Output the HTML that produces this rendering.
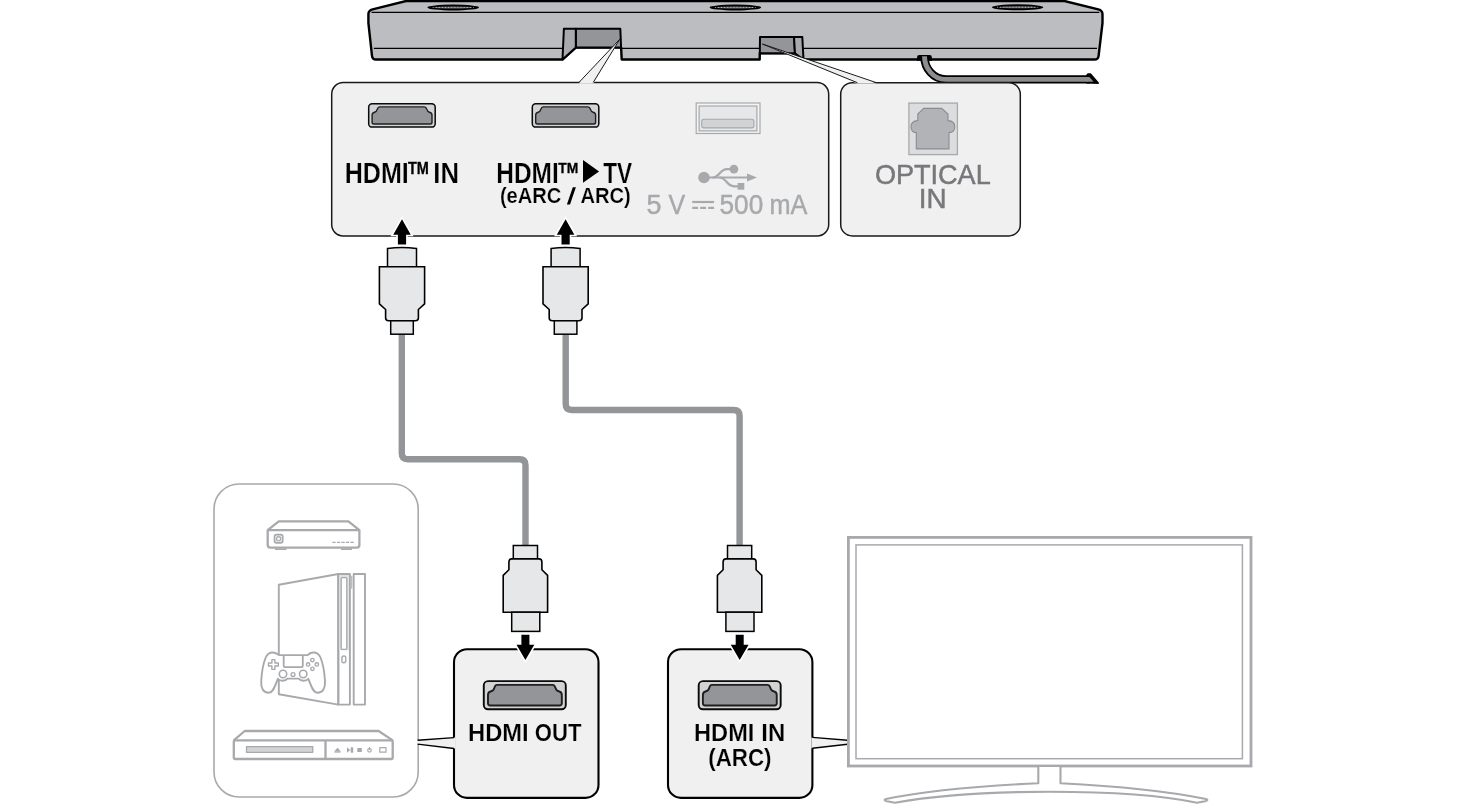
<!DOCTYPE html>
<html><head><meta charset="utf-8"><title>HDMI connection diagram</title>
<style>
html,body{margin:0;padding:0;background:#fff;}
body{width:1465px;height:805px;overflow:hidden;font-family:"Liberation Sans",sans-serif;}
svg{display:block;}
</style></head>
<body>
<svg width="1465" height="805" viewBox="0 0 1465 805" style="will-change:transform">
<defs><filter id="gs" filterUnits="userSpaceOnUse" x="0" y="0" width="1465" height="805"><feOffset dx="0" dy="0"/></filter></defs>
<rect width="1465" height="805" fill="#fff"/>
<g id="soundbar">
<path d="M406,1 L1064.5,1 L1098.3,9.3 Q1102.5,10.3 1102.5,14.2 L1102.5,23 L1098.6,55.8 Q1098.2,59.5 1094.5,59.5 L803.5,59.5 L795,53.3 L759.8,53.3 L759.7,59.5 L621.7,59.5 L621.1,47.5 L575.8,47.5 L562.5,59.5 L376,59.5 Q372.4,59.5 372,55.8 L368.4,23 L368.4,14.2 Q368.4,10.3 372.6,9.3 Z" fill="#bcbdc0" stroke="#000" stroke-width="2.4" stroke-linejoin="round"/>
<path d="M917,60.7 L917,57.4 Q917,55.1 919.3,55.1 L929.6,55.1 Q931.9,55.1 931.9,57.4 L931.9,60.7 Z" fill="#000"/>
<path d="M924.5,57 C924.5,68 933,79.4 946,79.4 L1090,79.4" fill="none" stroke="#000" stroke-width="8.4"/>
<path d="M1086,75.2 L1087.6,73.2 L1090.8,73.2 L1098.8,82.6 L1098.8,84 L1086,83.6 Z" fill="#000"/>
<path d="M924.5,56.3 C924.5,68 933,79.4 946,79.4 L1088,79.4" fill="none" stroke="#8b8d90" stroke-width="4.9"/>
<path d="M1087,76.95 L1089.4,76.95 L1093.6,81.85 L1087,81.85 Z" fill="#8b8d90"/>
<rect x="405" y="-1" width="660.5" height="2.9" fill="#000"/>
<path d="M371.5,12.4 L1099.3,12.4" stroke="#000" stroke-width="1.2" fill="none"/>
<path d="M373.8,48.3 L562.8,48.3 M621.4,48.3 L759.7,48.3 M803,48.3 L1097,48.3" stroke="#000" stroke-width="1.2" fill="none"/>
<polygon points="575.8,28.7 620.3,28.7 621.1,47.5 575.8,47.5" fill="#939598" stroke="#000" stroke-width="2" stroke-linejoin="round"/>
<polygon points="563.9,28.7 575.8,28.7 575.8,47.5 562.5,59.5" fill="#a7a9ac" stroke="#000" stroke-width="2" stroke-linejoin="round"/>
<polygon points="760,37 794,37 795,53.3 759.8,53.3" fill="#939598" stroke="#000" stroke-width="2" stroke-linejoin="round"/>
<polygon points="794,37 802.3,37 803.5,59.5 795,53.3" fill="#a7a9ac" stroke="#000" stroke-width="2" stroke-linejoin="round"/>
<ellipse cx="453.2" cy="7.5" rx="25.8" ry="3.0" fill="#000"/>
<ellipse cx="453.2" cy="7.5" rx="19" ry="1.0" fill="#6d6e71"/>
<path d="M432.7,7.5 L473.7,7.5" stroke="#d1d3d4" stroke-width="0.8" stroke-dasharray="0.9 2.2"/>
<ellipse cx="735.4" cy="7.5" rx="25.8" ry="3.0" fill="#000"/>
<ellipse cx="735.4" cy="7.5" rx="19" ry="1.0" fill="#6d6e71"/>
<path d="M714.9,7.5 L755.9,7.5" stroke="#d1d3d4" stroke-width="0.8" stroke-dasharray="0.9 2.2"/>
<ellipse cx="1017.6" cy="7.3" rx="25.8" ry="3.0" fill="#000"/>
<ellipse cx="1017.6" cy="7.3" rx="19" ry="1.0" fill="#6d6e71"/>
<path d="M997.1,7.3 L1038.1,7.3" stroke="#d1d3d4" stroke-width="0.8" stroke-dasharray="0.9 2.2"/>
</g>
<rect x="331.7" y="82.5" width="497" height="153.5" rx="11.5" fill="#f0f0f0" stroke="#1a1a1a" stroke-width="1.5"/>
<rect x="840.7" y="82.7" width="179.6" height="153.2" rx="11.5" fill="#f0f0f0" stroke="#1a1a1a" stroke-width="1.5"/>
<polygon points="619.8,39.2 578.6,83.4 593.4,83.4" fill="#f0f0f0"/>
<path d="M578.9,82.5 L619.8,39.2 L593.2,82.5" fill="none" stroke="#1a1a1a" stroke-width="1" stroke-linejoin="round"/>
<polygon points="762.4,44 857.0,83.5 877,83.5" fill="#f0f0f0"/>
<path d="M857.4,82.7 L762.4,44 L876.5,82.7" fill="none" stroke="#1a1a1a" stroke-width="1" stroke-linejoin="round"/>
<rect x="368.70" y="103.80" width="66.50" height="23.30" rx="3.40" fill="#d1d3d4" stroke="#0a0a0a" stroke-width="1.5"/><path d="M379.50,106.90 L424.30,106.90 C426.10,106.90 426.50,108.20 426.80,109.20 C427.30,111.20 428.30,111.90 429.50,112.20 C431.10,112.60 432.00,113.60 432.00,115.20 L432.00,122.20 Q432.00,124.00 430.20,124.00 L373.90,124.00 Q372.10,124.00 372.10,122.20 L372.10,115.20 C372.10,113.60 373.00,112.60 374.60,112.20 C375.80,111.90 376.80,111.20 377.30,109.20 C377.60,108.20 378.00,106.90 379.50,106.90 Z" fill="#939598" stroke="#1f1f1f" stroke-width="1.4" stroke-linejoin="round"/>
<rect x="532.30" y="103.80" width="66.50" height="23.30" rx="3.40" fill="#d1d3d4" stroke="#0a0a0a" stroke-width="1.5"/><path d="M543.10,106.90 L587.90,106.90 C589.70,106.90 590.10,108.20 590.40,109.20 C590.90,111.20 591.90,111.90 593.10,112.20 C594.70,112.60 595.60,113.60 595.60,115.20 L595.60,122.20 Q595.60,124.00 593.80,124.00 L537.50,124.00 Q535.70,124.00 535.70,122.20 L535.70,115.20 C535.70,113.60 536.60,112.60 538.20,112.20 C539.40,111.90 540.40,111.20 540.90,109.20 C541.20,108.20 541.60,106.90 543.10,106.90 Z" fill="#939598" stroke="#1f1f1f" stroke-width="1.4" stroke-linejoin="round"/>
<rect x="696.2" y="103" width="63.8" height="30.5" fill="#f4f4f4" stroke="#a7a9ac" stroke-width="1.2"/>
<rect x="699.1" y="106" width="57.8" height="24.9" fill="#e6e7e8" stroke="#a7a9ac" stroke-width="1.2"/>
<rect x="701.7" y="119.2" width="52.2" height="8.7" rx="2.2" fill="#d1d3d4" stroke="#a7a9ac" stroke-width="1.1"/>
<g fill="#a7a9ac" stroke="none"><circle cx="704" cy="177.5" r="5.8"/><circle cx="733.9" cy="169.1" r="4.4"/><rect x="737.6" y="183" width="6.7" height="6.7"/><polygon points="747,173.6 757,177.5 747,181.4"/></g><g fill="none" stroke="#a7a9ac" stroke-width="2.2"><path d="M704,177.5 L749,177.5"/><path d="M712.5,177.5 C719.5,177.5 719.5,169.1 727,169.1 L733.9,169.1"/><path d="M719.5,177.5 C726.5,177.5 726.5,186.3 734,186.3 L740,186.3"/></g>
<path d="M692.2,202 L714.1,202" stroke="#a7a9ac" stroke-width="2.2"/><path d="M692.2,207.8 L714.1,207.8" stroke="#a7a9ac" stroke-width="2.2" stroke-dasharray="5.9 2.1"/>
<rect x="908.9" y="103.1" width="48.5" height="51.5" fill="#dcddde" stroke="#a7a9ac" stroke-width="1.3"/>
<path d="M923.7,108.4 L941.6,108.4 L948,114 L948,120.6 Q954.8,121 954.8,126.7 Q954.8,132.4 949,132.6 L949,148.9 L916.3,148.9 L916.3,132.6 Q911,132.4 911,126.7 Q911,121 917.8,120.6 L917.8,114 Z" fill="#b1b3b6" stroke="#8a8c8f" stroke-width="1.1"/>
<g font-family="'Liberation Sans', sans-serif" filter="url(#gs)">
<text x="344.72" y="183.0" font-size="28.6" font-weight="700" fill="#000" textLength="64.1" lengthAdjust="spacingAndGlyphs" stroke="#f0f0f0" stroke-width="0.22">HDMI</text>
<text x="408.02" y="173.8" font-size="16.2" font-weight="700" fill="#000" textLength="20.89" lengthAdjust="spacingAndGlyphs" stroke="#000" stroke-width="0.3">TM</text>
<text x="433.27" y="183.0" font-size="28.6" font-weight="700" fill="#000" textLength="25.71" lengthAdjust="spacingAndGlyphs" stroke="#f0f0f0" stroke-width="0.22">IN</text>
<text x="496.28" y="182.7" font-size="28.6" font-weight="700" fill="#000" textLength="62.43" lengthAdjust="spacingAndGlyphs" stroke="#f0f0f0" stroke-width="0.22">HDMI</text>
<text x="558.25" y="172.9" font-size="15.0" font-weight="700" fill="#000" textLength="20.04" lengthAdjust="spacingAndGlyphs" stroke="#000" stroke-width="0.3">TM</text>
<text x="603.19" y="182.7" font-size="28.6" font-weight="700" fill="#000" textLength="28.92" lengthAdjust="spacingAndGlyphs" stroke="#f0f0f0" stroke-width="0.22">TV</text>
<text x="499.88" y="203.0" font-size="22.2" font-weight="700" fill="#000" textLength="61.49" lengthAdjust="spacingAndGlyphs" stroke="#f0f0f0" stroke-width="0.22">(eARC</text>
<text x="580.45" y="203.0" font-size="22.2" font-weight="700" fill="#000" textLength="50.4" lengthAdjust="spacingAndGlyphs" stroke="#f0f0f0" stroke-width="0.22">ARC)</text>
<polygon points="583,160.1 599.1,171.4 583,182.7" fill="#000"/>
<polygon points="566.9,204.6 570.0,204.6 575.9,187.3 572.8,187.3" fill="#000"/>
<text x="646.57" y="214.1" font-size="27.2" font-weight="400" fill="#a7a9ac" textLength="14.95" lengthAdjust="spacingAndGlyphs" stroke="#a7a9ac" stroke-width="0.45">5</text>
<text x="668.42" y="214.1" font-size="27.2" font-weight="400" fill="#a7a9ac" textLength="16.72" lengthAdjust="spacingAndGlyphs" stroke="#a7a9ac" stroke-width="0.45">V</text>
<text x="719.53" y="214.1" font-size="27.2" font-weight="400" fill="#a7a9ac" textLength="43.68" lengthAdjust="spacingAndGlyphs" stroke="#a7a9ac" stroke-width="0.45">500</text>
<text x="769.55" y="214.1" font-size="27.2" font-weight="400" fill="#a7a9ac" textLength="37.93" lengthAdjust="spacingAndGlyphs" stroke="#a7a9ac" stroke-width="0.45">mA</text>
<text x="874.88" y="184.0" font-size="27.6" font-weight="400" fill="#77787b" textLength="115.83" lengthAdjust="spacingAndGlyphs" stroke="#77787b" stroke-width="0.5">OPTICAL</text>
<text x="918.79" y="208.4" font-size="27.6" font-weight="400" fill="#77787b" textLength="27.82" lengthAdjust="spacingAndGlyphs" stroke="#77787b" stroke-width="0.5">IN</text>
</g>
<g fill="none" stroke="#939598" stroke-width="6.4" stroke-linejoin="round">
<path d="M401.8,333 L401.8,453.2 Q401.8,459.2 407.8,459.2 L519.5,459.2 Q525.5,459.2 525.5,465.2 L525.5,546"/>
<path d="M565.7,333 L565.7,404 Q565.7,410 571.7,410 L733.6,410 Q739.6,410 739.6,416 L739.6,546"/>
</g>
<polygon points="402,219.2 410.8,234.7 406.1,234.7 406.1,244.6 397.9,244.6 397.9,234.7 393.2,234.7" fill="#fff" stroke="#fff" stroke-width="3.2" stroke-linejoin="miter"/><polygon points="402,219.2 410.8,234.7 406.1,234.7 406.1,244.6 397.9,244.6 397.9,234.7 393.2,234.7" fill="#000"/>
<polygon points="565.6,219.2 574.4,234.7 569.7,234.7 569.7,244.6 561.5,244.6 561.5,234.7 556.8000000000001,234.7" fill="#fff" stroke="#fff" stroke-width="3.2" stroke-linejoin="miter"/><polygon points="565.6,219.2 574.4,234.7 569.7,234.7 569.7,244.6 561.5,244.6 561.5,234.7 556.8000000000001,234.7" fill="#000"/>
<path d="M387.50,267 L387.50,248.5 Q402.00,246.5 416.50,248.5 L416.50,267 Z" fill="#e6e7e8" stroke="#000" stroke-width="1.5"/><path d="M379.40,266.7 L424.60,266.7 L424.60,303.8 L418.40,309.5 L418.40,317.8 Q418.40,320.8 415.40,320.8 L388.60,320.8 Q385.60,320.8 385.60,317.8 L385.60,309.5 L379.40,303.8 Z" fill="#e6e7e8" stroke="#000" stroke-width="1.6"/><rect x="390.70" y="320.8" width="22.6" height="13.4" fill="#e6e7e8" stroke="#000" stroke-width="1.5"/>
<path d="M551.10,267 L551.10,248.5 Q565.60,246.5 580.10,248.5 L580.10,267 Z" fill="#e6e7e8" stroke="#000" stroke-width="1.5"/><path d="M543.00,266.7 L588.20,266.7 L588.20,303.8 L582.00,309.5 L582.00,317.8 Q582.00,320.8 579.00,320.8 L552.20,320.8 Q549.20,320.8 549.20,317.8 L549.20,309.5 L543.00,303.8 Z" fill="#e6e7e8" stroke="#000" stroke-width="1.6"/><rect x="554.30" y="320.8" width="22.6" height="13.4" fill="#e6e7e8" stroke="#000" stroke-width="1.5"/>
<rect x="513.30" y="545.5" width="24.2" height="13.4" fill="#e6e7e8" stroke="#000" stroke-width="1.5"/><path d="M511.80,558.9 L539.00,558.9 Q541.90,558.9 541.90,561.9 L541.90,569.7 L547.60,575.4 L547.60,612.2 L503.20,612.2 L503.20,575.4 L508.90,569.7 L508.90,561.9 Q508.90,558.9 511.80,558.9 Z" fill="#e6e7e8" stroke="#000" stroke-width="1.6"/><rect x="511.70" y="612.2" width="28.1" height="19.2" fill="#e6e7e8" stroke="#000" stroke-width="1.5"/>
<rect x="727.50" y="545.5" width="24.2" height="13.4" fill="#e6e7e8" stroke="#000" stroke-width="1.5"/><path d="M726.00,558.9 L753.20,558.9 Q756.10,558.9 756.10,561.9 L756.10,569.7 L761.80,575.4 L761.80,612.2 L717.40,612.2 L717.40,575.4 L723.10,569.7 L723.10,561.9 Q723.10,558.9 726.00,558.9 Z" fill="#e6e7e8" stroke="#000" stroke-width="1.6"/><rect x="725.90" y="612.2" width="28.1" height="19.2" fill="#e6e7e8" stroke="#000" stroke-width="1.5"/>
<rect x="214" y="484" width="204.2" height="313" rx="25" fill="none" stroke="#a7a9ac" stroke-width="1.6"/>
<rect x="454" y="649.2" width="144.5" height="148.7" rx="13" fill="#f0f0f0" stroke="#000" stroke-width="2.1"/>
<rect x="668" y="649.2" width="144.4" height="148.7" rx="13" fill="#f0f0f0" stroke="#000" stroke-width="2.1"/>
<polygon points="455,737.6 417,740.3 417,744.0 455,748.5" fill="#f0f0f0"/>
<path d="M454,737.6 L417.6,740.2 M454,748.5 L417.6,744.1" stroke="#000" stroke-width="1.4"/>
<polygon points="811.4,737.4 847.6,740.2 847.6,744.3 811.4,748.2" fill="#f0f0f0"/>
<path d="M812.4,737.4 L847.6,740.2 M812.4,748.2 L847.6,744.3" stroke="#000" stroke-width="1.4"/>
<polygon points="521.4,634.8 529.4,634.8 529.4,644.8 534.3,644.8 525.4,659.9 516.5,644.8 521.4,644.8" fill="#fff" stroke="#fff" stroke-width="3.2"/><polygon points="521.4,634.8 529.4,634.8 529.4,644.8 534.3,644.8 525.4,659.9 516.5,644.8 521.4,644.8" fill="#000"/>
<polygon points="735.7,634.8 743.7,634.8 743.7,644.8 748.6,644.8 739.7,659.9 730.8000000000001,644.8 735.7,644.8" fill="#fff" stroke="#fff" stroke-width="3.2"/><polygon points="735.7,634.8 743.7,634.8 743.7,644.8 748.6,644.8 739.7,659.9 730.8000000000001,644.8 735.7,644.8" fill="#000"/>
<rect x="483.79" y="681.16" width="81.99" height="28.08" rx="4.19" fill="#d1d3d4" stroke="#0a0a0a" stroke-width="1.9"/><path d="M497.10,684.90 L552.34,684.90 C554.56,684.90 555.05,686.47 555.42,687.67 C556.04,690.08 557.27,690.92 558.75,691.29 C560.73,691.77 561.84,692.97 561.84,694.90 L561.84,703.34 Q561.84,705.50 559.62,705.50 L490.20,705.50 Q487.98,705.50 487.98,703.34 L487.98,694.90 C487.98,692.97 489.09,691.77 491.06,691.29 C492.54,690.92 493.77,690.08 494.39,687.67 C494.76,686.47 495.25,684.90 497.10,684.90 Z" fill="#939598" stroke="#1f1f1f" stroke-width="1.9" stroke-linejoin="round"/>
<rect x="698.69" y="681.16" width="81.99" height="28.08" rx="4.19" fill="#d1d3d4" stroke="#0a0a0a" stroke-width="1.9"/><path d="M712.00,684.90 L767.24,684.90 C769.46,684.90 769.95,686.47 770.32,687.67 C770.94,690.08 772.17,690.92 773.65,691.29 C775.63,691.77 776.74,692.97 776.74,694.90 L776.74,703.34 Q776.74,705.50 774.52,705.50 L705.10,705.50 Q702.88,705.50 702.88,703.34 L702.88,694.90 C702.88,692.97 703.99,691.77 705.96,691.29 C707.44,690.92 708.67,690.08 709.29,687.67 C709.66,686.47 710.15,684.90 712.00,684.90 Z" fill="#939598" stroke="#1f1f1f" stroke-width="1.9" stroke-linejoin="round"/>
<g font-family="'Liberation Sans', sans-serif" filter="url(#gs)">
<text x="468.08" y="741.0" font-size="24.6" font-weight="700" fill="#000" textLength="60.55" lengthAdjust="spacingAndGlyphs" stroke="#f0f0f0" stroke-width="0.2">HDMI</text>
<text x="534.81" y="741.0" font-size="24.6" font-weight="700" fill="#000" textLength="46.65" lengthAdjust="spacingAndGlyphs" stroke="#f0f0f0" stroke-width="0.2">OUT</text>
<text x="694.09" y="741.0" font-size="24.6" font-weight="700" fill="#000" textLength="60.27" lengthAdjust="spacingAndGlyphs" stroke="#f0f0f0" stroke-width="0.2">HDMI</text>
<text x="761.26" y="741.0" font-size="24.6" font-weight="700" fill="#000" textLength="23.89" lengthAdjust="spacingAndGlyphs" stroke="#f0f0f0" stroke-width="0.2">IN</text>
<text x="708.22" y="766.0" font-size="24.4" font-weight="700" fill="#000" textLength="63.26" lengthAdjust="spacingAndGlyphs" stroke="#f0f0f0" stroke-width="0.2">(ARC)</text>
</g>
<g fill="none" stroke="#a7a9ac">
<rect x="848.4" y="537.4" width="402.6" height="228.6" stroke-width="2.8" fill="#fff"/>
<rect x="856" y="544.9" width="386.4" height="213.8" stroke-width="1.5"/>
<path d="M1038.3,767 L1038.3,783.2 C980,786 920,792 886,799 Q883,800.2 887,801.2 L895,802.8 C940,794.5 1000,791.8 1049.4,791.8 C1100,791.8 1158,794.5 1197,802.8 L1205,801.2 Q1209,800.2 1206,799 C1172,792 1118,786 1060.5,783.2 L1060.5,767" stroke-width="2.1" fill="#fff" stroke-linejoin="round"/>
</g>
<g fill="none" stroke="#a7a9ac" stroke-linejoin="round">
<path d="M267.7,530.2 L278.8,521.4 L348.4,521.4 L359.4,530.2" stroke-width="2.3"/>
<path d="M267.7,530.2 L359.4,530.2 L359.4,545.1 Q359.4,547.6 356.9,547.6 L270.2,547.6 Q267.7,547.6 267.7,545.1 Z" stroke-width="2.3"/>
<path d="M275,549.3 L286.5,549.3 M341,549.3 L352,549.3" stroke-width="1.5"/>
<rect x="274.5" y="534.6" width="8.2" height="8.2" rx="2" stroke-width="1.7" fill="#f1f1f2"/>
<circle cx="278.6" cy="538.7" r="2.1" stroke-width="1.1"/>
<path d="M332.4,542.4 L353.7,542.4" stroke-width="1.1" stroke-dasharray="3.3 1.2"/>
<path d="M278.8,655 L278.8,584.8 L338.3,574 L338.3,704.6 L278.8,694.2 L278.8,679" stroke-width="1.9"/>
<rect x="338.3" y="574" width="11.6" height="130.6" stroke-width="1.9"/>
<rect x="339.3" y="575" width="9.6" height="75.3" fill="#dfe0e1" stroke="none"/>
<rect x="353.7" y="574" width="11.3" height="130.6" stroke-width="1.9"/>
<rect x="341.2" y="577.6" width="5.6" height="71.7" rx="1.2" stroke-width="1.3" fill="#fff"/>
<rect x="341.9" y="656" width="3.9" height="6.8" rx="1.95" stroke-width="1.4"/>
<rect x="350.6" y="575.8" width="1.8" height="13" rx="0.8" fill="#bcbdc0" stroke="none"/>
<path d="M279,655.1 L307.6,655.1 C308.6,654 310.5,652.6 313.2,652.5 C316.6,652.4 319,654 320.5,657.5 C322.8,663 324.5,673 325,681 C325.4,688 323,692.8 317.5,692.8 C312.8,692.8 311.4,686 308.3,678.8 C306.5,681.4 300.5,681.4 298.7,678.6 L287.5,678.6 C285.7,681.4 279.7,681.4 277.9,678.8 C274.8,686 273.4,692.8 268.7,692.8 C263.2,692.8 260.8,688 261.2,681 C261.7,673 263.4,663 265.7,657.5 C267.2,654 269.6,652.4 273,652.5 C275.7,652.6 277.6,654 279,655.1 Z" stroke-width="1.9" fill="#fff"/>
<path d="M283.7,655.1 L283.7,665.4 Q283.7,667.2 285.5,667.2 L301,667.2 Q302.8,667.2 302.8,665.4 L302.8,655.1" stroke-width="1.8"/>
<path d="M271.9,659.6 h3 v3.4 h3.4 v3 h-3.4 v3.4 h-3 v-3.4 h-3.4 v-3 h3.4 Z" stroke-width="1.4" stroke-linejoin="round"/>
<circle cx="312.4" cy="660.1" r="1.7" stroke-width="1.4"/>
<circle cx="316.8" cy="664.4" r="1.7" stroke-width="1.4"/>
<circle cx="312.4" cy="668.8" r="1.7" stroke-width="1.4"/>
<circle cx="308.1" cy="664.4" r="1.7" stroke-width="1.4"/>
<circle cx="283" cy="674" r="3.7" stroke-width="1.6"/>
<circle cx="303.2" cy="674" r="3.7" stroke-width="1.6"/>
<circle cx="293" cy="674.5" r="1.9" stroke-width="1.4"/>
<path d="M233.8,740.4 L244.7,731 L378.6,731 L392.7,740.4" stroke-width="2.3"/>
<rect x="233.8" y="740.4" width="158.9" height="18.6" rx="1" stroke-width="2.3"/>
<path d="M325.5,740.4 L325.5,759" stroke-width="2.3"/>
<rect x="246.5" y="746.7" width="66.3" height="5.6" fill="#d1d3d4" stroke-width="1.3"/>
<rect x="379.8" y="747.7" width="6.2" height="4.5" stroke-width="1.2"/>
<circle cx="369.5" cy="750.3" r="1.8" stroke-width="1.2"/>
<path d="M369.5,747.1 L369.5,750" stroke-width="1.2"/>
</g>
<g fill="#a7a9ac" stroke="none"><polygon points="334.4,751.3 337.5,747.8 340.6,751.3"/><rect x="334.4" y="751.3" width="6.2" height="1.3"/><polygon points="347,747.3 350.2,750 347,752.7"/><rect x="350.7" y="747.3" width="2.5" height="5.4"/><rect x="357.3" y="748" width="4.5" height="4"/></g>
</svg>
</body></html>
